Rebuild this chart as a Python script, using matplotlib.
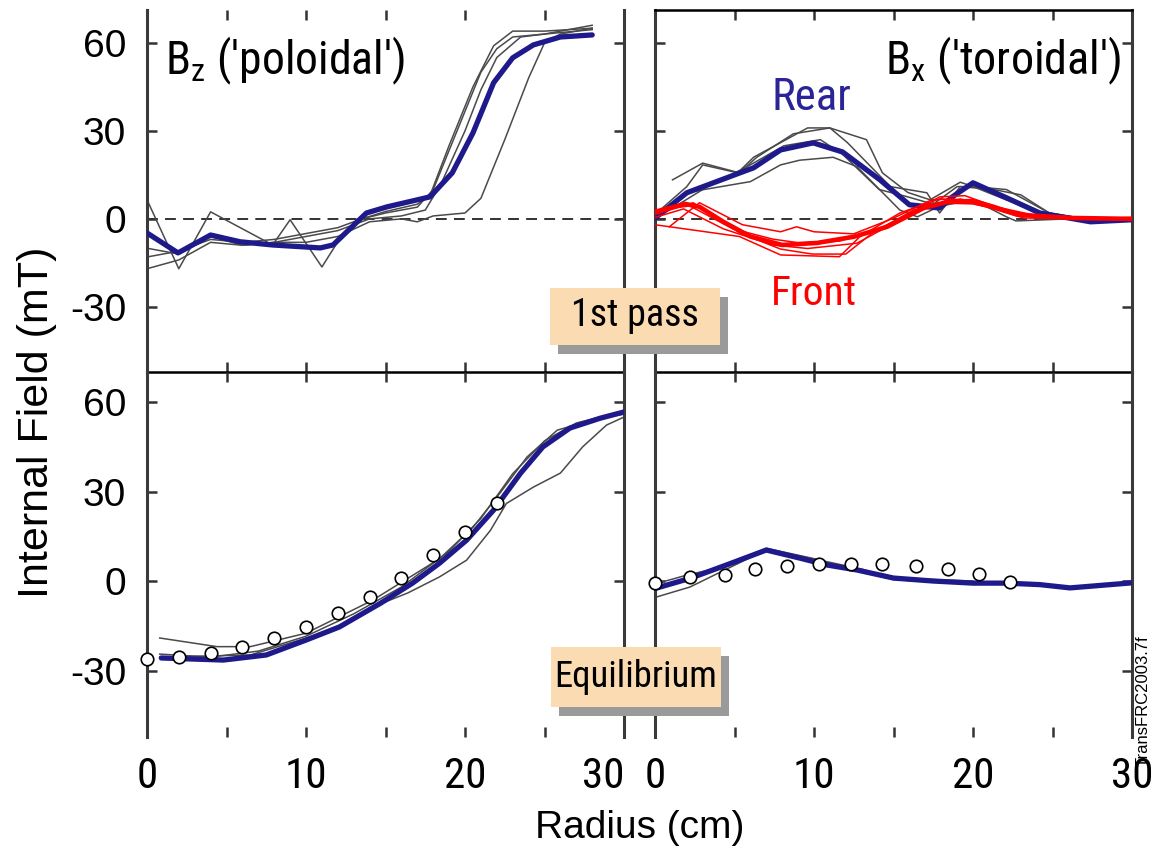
import os
import matplotlib
matplotlib.use("Agg")
import matplotlib.pyplot as plt
from matplotlib import font_manager
from matplotlib.font_manager import FontProperties
from matplotlib.patches import Rectangle

# ---------------------------------------------------------------- fonts
WIDE = "Liberation Sans"
plt.rcParams["font.family"] = [WIDE, "DejaVu Sans"]
plt.rcParams["mathtext.default"] = "regular"


def condensed_font():
    """Pick an installed narrow/condensed sans face for the in-panel labels."""
    prefs = ["liberationsansnarrow-regular", "arialnarrow", "nimbussansnarrow-regular",
             "robotocondensed-regular", "opensanscondensed-regular", "opensans_condensed-regular",
             "notosans-condensed.", "notosanscondensed-regular", "dejavusanscondensed.",
             "robotocondensed", "condensed-regular", "narrow-regular"]
    files = [f.fname for f in font_manager.fontManager.ttflist]
    for key in prefs:
        for fname in files:
            base = os.path.basename(fname).lower().replace(" ", "")
            if key in base and not any(s in base for s in ("bold", "italic", "oblique", "light", "thin", "medium", "black", "semi", "extra")):
                return FontProperties(fname=fname)
    return FontProperties(family=WIDE)


NARROW_FP = condensed_font()

# ---------------------------------------------------------------- data
# 1st pass, Bz (poloidal): average profile and individual shots
bz1_avg_r = [0, 1.95, 4, 5.85, 7.9, 10.9, 11.7, 13.8, 15.1, 17.8, 19.2, 20.5, 21.8, 23, 24.3, 26, 28]
bz1_avg = [-4.8, -11.6, -5.5, -7.8, -8.9, -9.9, -8.9, 2, 4.1, 7.5, 15.7, 29.3, 46.4, 54.9, 59.3, 62, 62.7]

bz1_s1_r = [0, 2, 4, 7.9, 9, 11, 12, 13.5, 15, 17, 17.8, 19, 20.5, 21.8, 23, 25, 28]
bz1_s1 = [6.5, -17, 2.4, -8.9, -0.3, -16.4, -7.8, 0, 2.5, 5, 8, 25, 45, 59, 64, 64, 65]
bz1_s2_r = [0, 2, 4, 6, 8, 10, 12, 13.5, 15, 17, 18, 19.5, 21, 22, 23, 25, 28]
bz1_s2 = [-13, -11, -7, -8, -7, -5, -3, 0, 2, 4, 10, 30, 50, 58, 62, 63, 64.5]
bz1_s3_r = [0, 2, 4, 6, 8, 10, 12, 14, 16, 17.5, 18.5, 20, 21, 22, 23.5, 25, 28]
bz1_s3 = [-17, -14, -8, -9, -8, -6, -4, 0, 1, 3, 12, 30, 44, 55, 62, 63, 66]
bz1_s4_r = [0, 2, 4, 6, 8, 10, 12, 14, 16, 17, 18, 20, 21, 22.5, 24, 25, 26, 28]
bz1_s4 = [-10, -12, -6, -9, -8, -8, -6, -1, 0, -1, 1, 2, 7, 27, 48, 60, 63, 65]

# 1st pass, Bx (toroidal): rear probes
bx1_rear_r = [0, 2, 5.35, 6.2, 7.9, 9.95, 11.8, 14.15, 16, 17.9, 18.7, 20, 22.1, 24.2, 27.4, 30]
bx1_rear = [0.3, 8.9, 15.7, 17.4, 23.5, 25.9, 22.8, 13.3, 4.8, 3.7, 7.5, 12.3, 7.2, 2, -1, -0.3]

rear_s1_r = [1.1, 3, 5.3, 6.4, 8.7, 11, 12.1, 14.8, 17.1, 17.9, 19.2, 21.3, 23, 24.8, 27, 30]
rear_s1 = [13.3, 19, 15.7, 21, 29, 31, 26, 11, 8.9, 2, 11, 10, 8.2, 2, 0, 0]
rear_s2_r = [0, 2, 3, 5.2, 6.2, 9.6, 11, 13.3, 14.3, 15.9, 17.3, 19.2, 20, 22.1, 24.8, 27, 30]
rear_s2 = [1.5, 11, 18.4, 15.7, 21, 31, 31, 27, 15.7, 9, 6.5, 12.5, 11, 10, 2, 0, 0]
rear_s3_r = [0, 2, 6, 7.9, 9.1, 11.2, 12.7, 15.4, 16.5, 17.9, 20, 22.1, 22.7, 26, 30]
rear_s3 = [0, 9, 12.7, 18.4, 20, 21, 17.8, 3, 0.7, 4.3, 6.5, 0.7, -0.7, 0, 0]
rear_s4_r = [0, 3.3, 5.8, 8.1, 10.4, 11.8, 14.1, 15.9, 17.5, 19, 20, 23.1, 25, 28, 30]
rear_s4 = [0, 11, 17.8, 24.9, 27, 22, 10, 7.5, 5, 11, 11, 4.3, 0, 0, 0]

# 1st pass, Bx (toroidal): front probes
bx1_front_r = [0, 1.9, 2.8, 4.3, 6, 8, 10.2, 12.5, 14.6, 16.9, 18.4, 20, 21.3, 22.8, 26.3, 30]
bx1_front = [2.4, 5.1, 4.1, -1, -6, -8.9, -8.2, -6.1, -2.7, 3.7, 5.8, 6.1, 4.1, 1.4, 0.3, 0]

front_s1_r = [0, 5.3, 7.9, 11.6, 12.9, 15.4, 17.9, 20, 22, 25, 30]
front_s1 = [-2, -6, -12.3, -12.9, -6, 2, 6.8, 5.8, 2.4, 0.5, 0]
front_s2_r = [0.9, 2.8, 5.5, 7.9, 8.9, 10, 12.5, 14.9, 17.4, 18.8, 20.9, 23.2, 27, 30]
front_s2 = [-2.7, 5.5, -2, -4.4, -2.7, -4.4, -5.1, 0, 6.5, 6.8, 4, 0.3, 0, 0.5]
front_s3_r = [0, 2.4, 5.3, 7.9, 9.9, 12, 13.7, 16.3, 17.9, 20, 23.2, 27, 30]
front_s3 = [1.5, 5.5, -4.7, -10.3, -12, -12, -4.7, 3.1, 5.4, 5.1, 1.3, 0, 0]
front_s4_r = [0, 1.8, 4.3, 7.4, 9.6, 12.7, 15, 17.9, 19.5, 22, 24.5, 30]
front_s4 = [0.5, 3.4, -3.4, -8.9, -10.1, -8.3, -1.5, 7.5, 7.9, 3, 0.5, 0]
front_s5_r = [0, 2.2, 4.9, 7.4, 9.1, 11.6, 14.1, 17.1, 19.2, 21.7, 24.5, 30]
front_s5 = [3, 4.4, -3.4, -6.9, -8.2, -7.6, -3.4, 4.6, 6.8, 3.8, 0.5, 0]

# Equilibrium, Bz: measured average, shots, and equilibrium model points
bz2_avg_r = [0.9, 4.8, 7.5, 10, 12.1, 14.7, 16.7, 18.4, 20.1, 21.8, 23.5, 24.9, 26.6, 28.5, 30]
bz2_avg = [-25.8, -26.5, -24.8, -19.8, -15.4, -7.4, -0.7, 6, 13.7, 23.8, 36.2, 45, 51.3, 54.6, 56.7]

bz2_s1_r = [0.8, 4.4, 6.5, 10, 14.2, 18.4, 20.5, 22.2, 23.9, 25.8, 28, 30]
bz2_s1 = [-19.1, -22, -22, -17.5, -6.4, 7.5, 18, 29.5, 41.6, 50.6, 54, 56]
bz2_s2_r = [0.8, 6.5, 11.7, 14.2, 16.4, 18.4, 20.1, 21.6, 22.6, 24.3, 26, 27.4, 28.9, 30]
bz2_s2 = [-25.5, -24.8, -16.4, -8.7, -4, 1.4, 7, 17, 26, 31.5, 36.2, 45, 52.3, 55]
bz2_s3_r = [0.8, 4, 7, 10, 13, 16, 19, 21, 23, 25, 27, 30]
bz2_s3 = [-24.5, -25.5, -23.5, -18.5, -11, -2, 10, 21, 36, 47, 53, 57]

bz2_model_r = [0, 2, 4, 6, 8, 10, 12, 14, 16, 18, 20, 22]
bz2_model = [-26.1, -25.5, -24.1, -22.1, -19.1, -15.4, -10.7, -5.3, 1, 8.7, 16.4, 26.1]

# Equilibrium, Bx
bx2_avg_r = [0, 2.2, 4.5, 7, 9.1, 10.8, 12.7, 15, 17.5, 20, 22.1, 24.2, 26.1, 30]
bx2_avg = [-2.5, 0.9, 5.4, 10.4, 7.7, 5.4, 3.7, 1, 0, -0.7, -0.7, -1.2, -2.3, -0.6]

bx2_s1_r = [0, 2.2, 4.5, 7, 9, 10.8, 13, 15, 17.5, 20]
bx2_s1 = [-5.5, -2, 4, 10.5, 8.5, 6.5, 4, 1, 0.5, 0]
bx2_s2_r = [0, 2, 4.5, 7, 10, 12, 15, 18, 20]
bx2_s2 = [-1, 2, 5, 11, 7.5, 4.5, 0.5, -0.5, -0.5]

bx2_model_r = [0, 2.2, 4.4, 6.3, 8.3, 10.3, 12.3, 14.3, 16.4, 18.4, 20.4, 22.3]
bx2_model = [-0.8, 1.5, 2, 4, 5, 5.7, 5.7, 5.7, 5.1, 4, 2.3, -0.4]

x_ticks = [0, 5, 10, 15, 20, 25, 30]
x_ticklabels = ["0", "", "10", "", "20", "", "30"]
y_ticks = [-30, 0, 30, 60]
y_ticklabels = ["-30", "0", "30", "60"]

# ---------------------------------------------------------------- style
NAVY = "#1f1a8c"
RED = "#ff0000"
GRAY = "#4a4a4a"
PEACH = "#fbdcb2"
SHADOW = "#9a9a9a"

W, H = 1152, 852
fig = plt.figure(figsize=(W / 100, H / 100), dpi=100)


def box(x0, y0, x1, y1):
    """Axes rectangle from pixel corners (origin top-left)."""
    return [x0 / W, 1 - y1 / H, (x1 - x0) / W, (y1 - y0) / H]


ax_tl = fig.add_axes(box(147, 10, 624, 372))
ax_tr = fig.add_axes(box(655, 10, 1132, 372))
ax_bl = fig.add_axes(box(147, 372, 624, 737))
ax_br = fig.add_axes(box(655, 372, 1132, 737))

xtick_fp = NARROW_FP.copy()
xtick_fp.set_size(31)

for ax, top_row, left_col in [(ax_tl, True, True), (ax_tr, True, False),
                              (ax_bl, False, True), (ax_br, False, False)]:
    ax.set_xlim(0, 30)
    ax.set_ylim((-52.2, 71.2) if top_row else (-52.3, 70.1))
    ax.set_xticks(x_ticks)
    ax.set_yticks(y_ticks)
    ax.tick_params(direction="in", length=7.5, width=1.8, color="#333333",
                   top=True, right=True, labelsize=28)
    ax.tick_params(axis="y", pad=15)
    ax.tick_params(axis="x", pad=14)
    if left_col:
        ax.set_yticklabels(y_ticklabels)
    else:
        ax.set_yticklabels([])
    if top_row:
        ax.set_xticklabels([])
    else:
        ax.set_xticklabels(x_ticklabels, fontproperties=xtick_fp)
    for side in ("left", "right"):
        ax.spines[side].set_color("#3a3a3a")
        ax.spines[side].set_linewidth(2.2)
    ax.spines["top"].set_color("black")
    ax.spines["top"].set_linewidth(1.8)
    ax.spines["bottom"].set_color("black")
    ax.spines["bottom"].set_linewidth(1.8)
    if not top_row:
        ax.spines["bottom"].set_visible(False)
        ax.spines["top"].set_visible(False)
    ax.set_facecolor("none")

ax_tl.spines["top"].set_visible(False)
# keep the left column's "30" clear of the right column's "0"
ax_bl.get_xticklabels()[-1].set_horizontalalignment("right")

thin = dict(color=GRAY, lw=1.1, solid_joinstyle="round", zorder=2)
thick_blue = dict(color=NAVY, lw=3.8, solid_joinstyle="round", solid_capstyle="round", zorder=4)
model = dict(ls="none", marker="o", ms=9, mfc="white", mec="black", mew=1.2, zorder=6, clip_on=False)

# Bz, 1st pass
ax_tl.axhline(0, color="#222222", lw=1.3, ls=(0, (6, 4)), zorder=1)
for r, b in [(bz1_s1_r, bz1_s1), (bz1_s2_r, bz1_s2), (bz1_s3_r, bz1_s3), (bz1_s4_r, bz1_s4)]:
    ax_tl.plot(r, b, **thin)
ax_tl.plot(bz1_avg_r, bz1_avg, **thick_blue)

# Bx, 1st pass
ax_tr.axhline(0, color="#222222", lw=1.3, ls=(0, (6, 4)), zorder=1)
for r, b in [(rear_s1_r, rear_s1), (rear_s2_r, rear_s2), (rear_s3_r, rear_s3), (rear_s4_r, rear_s4)]:
    ax_tr.plot(r, b, **thin)
ax_tr.plot(bx1_rear_r, bx1_rear, **thick_blue)
for r, b in [(front_s1_r, front_s1), (front_s2_r, front_s2), (front_s3_r, front_s3),
             (front_s4_r, front_s4), (front_s5_r, front_s5)]:
    ax_tr.plot(r, b, color=RED, lw=1.1, zorder=5)
ax_tr.plot(bx1_front_r, bx1_front, color=RED, lw=3.3, solid_joinstyle="round", zorder=5)

# Bz, equilibrium
for r, b in [(bz2_s1_r, bz2_s1), (bz2_s2_r, bz2_s2), (bz2_s3_r, bz2_s3)]:
    ax_bl.plot(r, b, **thin)
ax_bl.plot(bz2_avg_r, bz2_avg, **thick_blue)
ax_bl.plot(bz2_model_r, bz2_model, **model)

# Bx, equilibrium
for r, b in [(bx2_s1_r, bx2_s1), (bx2_s2_r, bx2_s2)]:
    ax_br.plot(r, b, **thin)
ax_br.plot(bx2_avg_r, bx2_avg, **thick_blue)
ax_br.plot(bx2_model_r, bx2_model, **model)


# ---------------------------------------------------------------- text
def fx(px):
    return px / W


def fy(py):
    return 1 - py / H


def narrow_text(px, py, s, width_px, **kw):
    """Place a label in the condensed face, sized to span width_px pixels."""
    fp = NARROW_FP.copy()
    fp.set_size(30)
    t = fig.text(fx(px), fy(py), s, fontproperties=fp, va="baseline", **kw)
    w = t.get_window_extent(fig.canvas.get_renderer()).width
    t.set_fontsize(30 * width_px / w)
    return t


narrow_text(165, 74, r"B$_{z}$ ('poloidal')", 240, ha="left")
narrow_text(1121, 74, r"B$_{x}$ ('toroidal')", 236, ha="right")
narrow_text(811, 110, "Rear", 80, ha="center", color="#2a2496")
narrow_text(814, 305, "Front", 86, ha="center", color=RED)

fig.text(fx(37), fy(422), "Internal Field (mT)", fontsize=31, rotation=90,
         ha="center", va="center")
fig.text(fx(640), fy(838), "Radius (cm)", fontsize=28, ha="center", va="baseline")
fig.text(fx(1151), fy(767), "TransFRC2003.7f", fontsize=12, rotation=90,
         ha="right", va="bottom")

# stage labels with drop shadows, spanning the gap between columns
for (x0, y0, x1, y1), label, base, tw in [((550, 288, 720, 345), "1st pass", 326, 128),
                                          ((551, 647, 721, 707), "Equilibrium", 687, 162)]:
    fig.add_artist(Rectangle((fx(x0 + 8), fy(y1 + 9)), (x1 - x0) / W, (y1 - y0) / H,
                             transform=fig.transFigure, facecolor=SHADOW,
                             edgecolor="none", zorder=10))
    fig.add_artist(Rectangle((fx(x0), fy(y1)), (x1 - x0) / W, (y1 - y0) / H,
                             transform=fig.transFigure, facecolor=PEACH,
                             edgecolor="none", zorder=11))
    narrow_text((x0 + x1) / 2, base, label, tw, ha="center", zorder=12)

fig.savefig("out.png", dpi=100)
